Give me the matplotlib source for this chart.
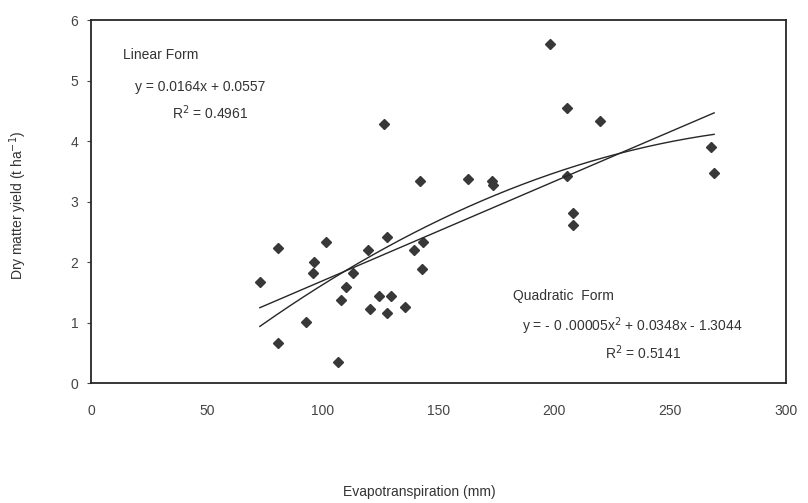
import numpy as np
import matplotlib
matplotlib.use("Agg")
import matplotlib.pyplot as plt

plt.rcParams['font.family'] = ['Liberation Sans', 'DejaVu Sans']

# evapotranspiration (mm) and dry matter yield (t/ha)
et_mm = [72.9, 80.8, 80.8, 92.8, 96.2, 95.7, 101.3, 106.5, 107.8, 110.1,
         113.2, 119.7, 120.4, 124.3, 126.5, 127.6, 127.9, 129.5, 135.5, 139.5,
         143.4, 143.0, 142.0, 162.6, 172.9, 173.6, 198.1, 205.3, 205.6, 207.9,
         207.9, 219.7, 267.6, 269.0]
dm_yield = [1.68, 2.23, 0.67, 1.01, 2.01, 1.83, 2.34, 0.36, 1.37, 1.59,
            1.82, 2.20, 1.23, 1.45, 4.29, 2.41, 1.16, 1.45, 1.26, 2.21,
            2.33, 1.89, 3.34, 3.38, 3.34, 3.28, 5.60, 4.55, 3.42, 2.81,
            2.61, 4.33, 3.91, 3.48]

# trend line coefficients (highest power first)
linear_coef = [0.0164, 0.0557]
quad_coef = [-0.0000545, 0.0348, -1.3044]

x_ticks = [0, 50, 100, 150, 200, 250, 300]
y_ticks = [0, 1, 2, 3, 4, 5, 6]

fig = plt.figure(figsize=(8.08, 5.03), dpi=100)
ax = fig.add_axes([0.1126, 0.2376, 0.8601, 0.7226])

ink = '#262626'
ax.plot(et_mm, dm_yield, linestyle='none', marker='D', markersize=4.8,
        color='#383838')

xs = np.linspace(min(et_mm), max(et_mm), 200)
ax.plot(xs, np.polyval(linear_coef, xs), color=ink, linewidth=1.0)
ax.plot(xs, np.polyval(quad_coef, xs), color=ink, linewidth=1.0)

ax.set_xlim(0, 300)
ax.set_ylim(0, 6)
ax.set_xticks(x_ticks)
ax.set_yticks(y_ticks)
ax.tick_params(axis='x', length=0, pad=15, labelsize=10, colors='#444444')
ax.tick_params(axis='y', length=3, width=0.8, direction='out', pad=6,
               labelsize=10, colors='#444444')
for s in ax.spines.values():
    s.set_color(ink)
    s.set_linewidth(1.3)

ax.set_xlabel('Evapotranspiration (mm)', fontsize=10, color='#333333')
ax.xaxis.set_label_coords(0.472, -0.28)
ax.set_ylabel('Dry matter yield (t ha$^{-1}$)', fontsize=10, color='#333333')
ax.yaxis.set_label_coords(-0.089, 0.49)

txt = dict(fontsize=10, color='#333333', va='center', ha='left')
ax.text(13.8, 5.43, 'Linear Form', **txt)
ax.text(19.0, 4.90, 'y = 0.0164x + 0.0557', **txt)
ax.text(35.0, 4.47, 'R$^2$ = 0.4961', **txt)
ax.text(182.0, 1.44, 'Quadratic  Form', **txt)
ax.text(186.0, 0.95, 'y = - 0 .00005x$^2$ + 0.0348x - 1.3044', **txt)
ax.text(222.0, 0.50, 'R$^2$ = 0.5141', **txt)

fig.savefig('out.png', dpi=100)
